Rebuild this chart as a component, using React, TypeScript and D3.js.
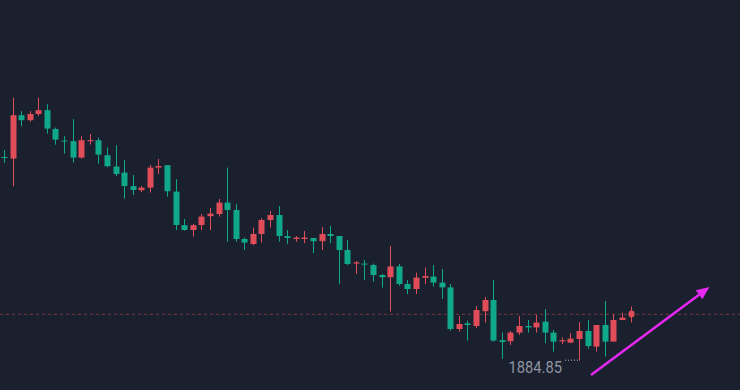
import React from "react";
import * as d3 from "d3";

// candle values (price units)
const opens = [
    1986.7, 1985.9, 2007.6, 2005.1, 2008.2, 2010.1, 2000.7, 1994.9, 1994.6, 1986.4,
    1994.6, 1995.1, 1987.6, 1981.9, 1978.9, 1972.1, 1970.1, 1971.4, 1981.4, 1982.6,
    1969.4, 1952.6, 1950.2, 1952.7, 1957.1, 1958.2, 1963.9, 1960.2, 1945.7, 1943.2,
    1948.2, 1955.2, 1957.7, 1947.1, 1945.7, 1945.7, 1946.2, 1944.6, 1948.2, 1947.2,
    1940.2, 1933.4, 1933.4, 1932.7, 1927.7, 1926.6, 1932.0, 1923.2, 1920.7, 1926.3,
    1926.9, 1923.9, 1921.5, 1900.7, 1903.5, 1902.2, 1909.6, 1915.2, 1895.1, 1894.6,
    1898.9, 1902.2, 1901.5, 1904.4, 1898.9, 1894.5, 1893.9, 1895.7, 1899.7, 1891.9,
    1902.7, 1894.4, 1905.2, 1906.5,
];
const closes = [
    1986.2, 2007.6, 2005.1, 2008.2, 2010.1, 2000.9, 1995.4, 1994.4, 1986.4, 1995.1,
    1995.2, 1987.9, 1982.1, 1978.2, 1972.2, 1970.2, 1971.4, 1981.4, 1982.2, 1969.6,
    1952.7, 1950.2, 1952.6, 1956.9, 1958.4, 1963.9, 1960.2, 1945.7, 1943.9, 1948.2,
    1955.2, 1957.7, 1947.2, 1946.2, 1946.4, 1946.4, 1944.6, 1948.2, 1947.2, 1940.2,
    1933.2, 1934.0, 1932.9, 1927.7, 1926.6, 1932.0, 1923.2, 1920.7, 1926.4, 1927.2,
    1923.9, 1921.5, 1900.7, 1903.2, 1902.7, 1910.2, 1915.2, 1894.9, 1894.2, 1898.9,
    1902.2, 1901.5, 1903.9, 1898.9, 1894.4, 1895.1, 1895.9, 1899.7, 1892.2, 1902.7,
    1894.4, 1905.2, 1906.4, 1910.0,
];
const highs = [
    1990.2, 2016.4, 2009.6, 2009.6, 2016.4, 2013.1, 2001.4, 1997.1, 2005.6, 1997.1,
    1998.2, 1996.4, 1991.5, 1992.7, 1985.2, 1977.7, 1972.1, 1982.7, 1985.7, 1982.6,
    1975.6, 1955.7, 1953.2, 1958.2, 1961.2, 1965.7, 1981.4, 1963.2, 1946.4, 1951.4,
    1956.1, 1959.7, 1962.2, 1950.2, 1947.2, 1949.7, 1946.2, 1951.6, 1952.2, 1947.2,
    1945.2, 1934.7, 1935.2, 1933.4, 1928.2, 1942.2, 1933.2, 1925.2, 1928.9, 1931.4,
    1932.7, 1930.7, 1923.2, 1907.2, 1904.9, 1912.2, 1916.6, 1925.2, 1898.9, 1899.7,
    1907.2, 1905.2, 1907.7, 1910.7, 1900.2, 1896.4, 1898.6, 1904.1, 1905.2, 1902.7,
    1914.7, 1908.1, 1908.9, 1912.0,
];
const lows = [
    1983.7, 1972.1, 2002.1, 2004.4, 2007.1, 1998.4, 1992.9, 1988.4, 1983.9, 1985.9,
    1992.9, 1983.4, 1981.6, 1977.2, 1965.9, 1967.7, 1969.2, 1968.9, 1978.2, 1966.9,
    1950.2, 1949.9, 1946.9, 1950.2, 1950.2, 1956.9, 1944.4, 1944.4, 1940.2, 1942.6,
    1943.9, 1951.4, 1944.4, 1943.2, 1944.4, 1943.6, 1938.6, 1940.2, 1943.6, 1923.2,
    1932.7, 1928.2, 1925.2, 1924.4, 1921.4, 1909.4, 1922.4, 1918.2, 1918.2, 1923.2,
    1921.9, 1915.7, 1899.9, 1899.4, 1894.9, 1901.1, 1903.9, 1894.4, 1885.7, 1892.7,
    1897.7, 1898.9, 1898.9, 1893.6, 1889.4, 1893.1, 1893.6, 1884.85, 1890.9, 1889.4,
    1886.9, 1894.4, 1905.2, 1904.0,
];

const lastPrice = 1908.05;
const lowPrice = 1884.85;
const lowIndex = 67;
// trend arrow, in bar index / price units
const arrowFrom = { i: 68.4, p: 1877.7 };
const arrowTo = { i: 82.2, p: 1921.7 };

const W = 740;
const H = 390;
const UP = "#e04d59";
const DOWN = "#0fa88a";

export default function App() {
    const x = d3.scaleLinear([0, opens.length - 1], [4, 630.5]);
    const y = d3.scaleLinear([1870.2, 2065.2], [H, 0]);
    const bodyW = 6;

    const ax1 = x(arrowFrom.i), ay1 = y(arrowFrom.p);
    const ax2 = x(arrowTo.i), ay2 = y(arrowTo.p);
    const ang = Math.atan2(ay2 - ay1, ax2 - ax1);
    const headLen = 13, headHalf = 5.5;
    const bx = ax2 - headLen * Math.cos(ang), by = ay2 - headLen * Math.sin(ang);
    const head = [
        [ax2, ay2],
        [bx + headHalf * Math.sin(ang), by - headHalf * Math.cos(ang)],
        [bx - headHalf * Math.sin(ang), by + headHalf * Math.cos(ang)],
    ];

    const lowX = x(lowIndex);
    const lowY = y(lowPrice);

    return <svg width={W} height={H} style={{ position: "absolute", left: 0, top: 0, display: "block" }}>
        <rect width={W} height={H} fill="#1b202e" />

        {/* last price line */}
        <line x1={0} x2={W} y1={y(lastPrice)} y2={y(lastPrice)}
            stroke="#7c3542" strokeWidth={1} strokeDasharray="3 3" />

        {opens.map((o, i) => {
            const c = closes[i];
            const up = c >= o;
            const col = up ? UP : DOWN;
            const top = y(Math.max(o, c));
            const h = Math.max(1, y(Math.min(o, c)) - top);
            const cx = Math.round(x(i)) + 0.5;
            const last = i === opens.length - 1;
            return <g key={i}>
                <line x1={cx} x2={cx} y1={y(highs[i])} y2={y(lows[i])} stroke={col} strokeWidth={1} />
                <rect x={cx - bodyW / 2} y={top} width={bodyW} height={h} fill={col}
                    rx={last ? 3 : 0} />
            </g>;
        })}

        {/* lowest price marker */}
        <line x1={lowX - 14} x2={lowX - 1} y1={lowY - 0.5} y2={lowY - 0.5}
            stroke="#b4b8c2" strokeWidth={1} strokeDasharray="1 2" />
        <text x={lowX - 17} y={lowY + 12} textAnchor="end" fill="#8f94a1"
            fontFamily="Roboto, sans-serif" fontSize={17} textLength={53.5} lengthAdjust="spacingAndGlyphs">
            {lowPrice.toFixed(2)}
        </text>

        {/* trend arrow */}
        <line x1={ax1} y1={ay1} x2={bx} y2={by} stroke="#e628f2" strokeWidth={2.5} />
        <polygon points={head.map(p => p.join(",")).join(" ")} fill="#e628f2" />
    </svg>;
}
